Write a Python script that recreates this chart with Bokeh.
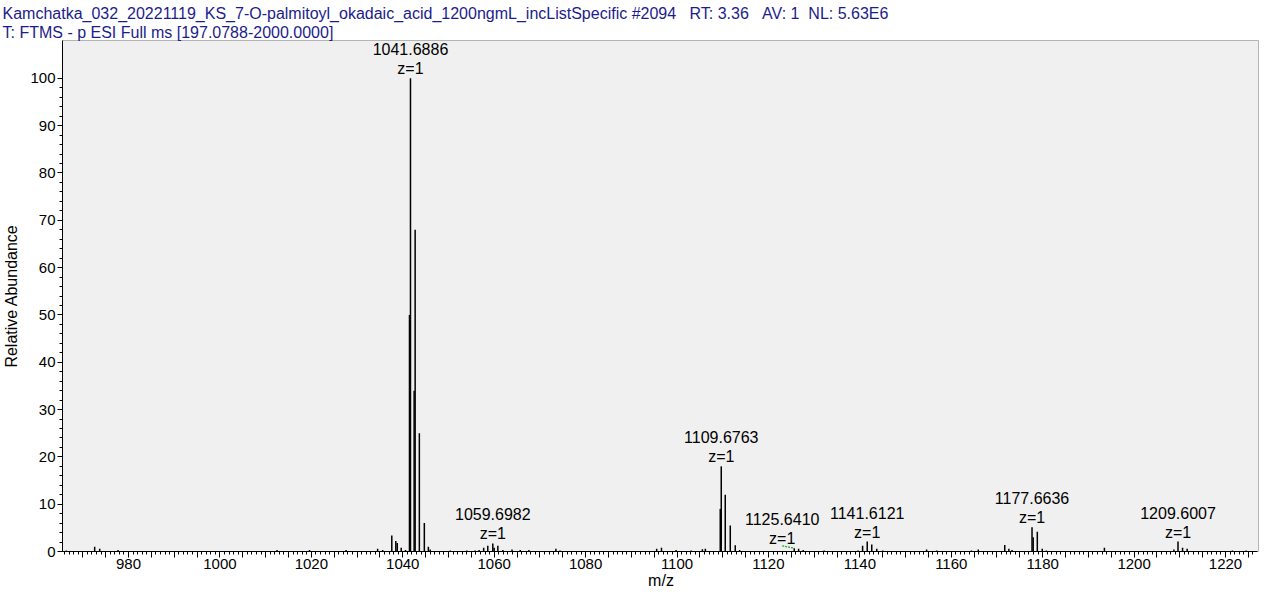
from bokeh.plotting import figure
from bokeh.models import (Range1d, FixedTicker, ColumnDataSource,
                          CustomJSTickFormatter, Title)
from bokeh.embed import file_html
from bokeh.resources import INLINE
from bokeh.core.properties import value

# ---------------- data ----------------
peak_mz = [966.4, 972.6, 973.7, 977.7, 1012.5, 1019.6, 1027.6, 1034.5, 1035.6,
           1037.6, 1038.48, 1038.8, 1039.66, 1040.6, 1041.47, 1041.6886, 1042.49,
           1042.71, 1043.63, 1044.72, 1045.6, 1046.0,
           1050.4, 1054.0, 1055.8, 1056.7, 1057.7, 1058.6, 1059.6982, 1060.0, 1060.8,
           1061.9, 1063.9, 1065.7, 1067.6, 1073.5, 1074.4,
           1095.55, 1096.6, 1099.8, 1103.1, 1105.55, 1106.2,
           1109.46, 1109.6763, 1110.55, 1111.65, 1112.74, 1113.7,
           1125.641, 1126.6, 1127.6, 1132.2,
           1139.6, 1140.6, 1141.6121, 1142.6, 1143.7, 1145.0,
           1154.6, 1156.8, 1164.4, 1165.9,
           1171.7, 1172.6, 1173.3, 1177.6636, 1177.92, 1178.82, 1179.9, 1180.8,
           1193.5, 1208.7, 1209.6007, 1210.6, 1211.6, 1221.5, 1224.5]
peak_int = [0.2, 1.0, 0.6, 0.3, 0.3, 0.3, 0.3, 0.6, 0.3,
            3.4, 2.2, 1.8, 0.8, 0.3, 50.0, 100.0, 34.0,
            68.0, 25.0, 6.0, 1.0, 0.4,
            0.2, 0.2, 0.2, 0.3, 0.8, 1.2, 1.7, 0.8, 1.2,
            0.3, 0.4, 0.3, 0.3, 0.6, 0.2,
            0.6, 0.8, 0.3, 0.2, 0.5, 0.6,
            9.0, 18.0, 12.0, 5.5, 1.3, 0.3,
            0.7, 0.6, 0.3, 0.2,
            0.2, 1.2, 2.1, 1.5, 0.6, 0.2,
            0.4, 0.2, 0.2, 0.4,
            1.4, 0.6, 0.3, 5.1, 3.0, 4.2, 0.6, 0.2,
            0.8, 0.4, 2.1, 0.8, 0.6, 0.2, 0.2]

label_mz = [1041.6886, 1059.6982, 1109.6763, 1125.6410, 1141.6121, 1177.6636, 1209.6007]
label_int = [100.0, 1.7, 18.0, 0.7, 2.1, 5.1, 2.1]
label_charge = [1, 1, 1, 1, 1, 1, 1]

x_major_ticks = list(range(970, 1226, 5))
x_minor_ticks = list(range(966, 1227, 1))
y_major_ticks = list(range(0, 101, 10))
y_minor_ticks = list(range(0, 101, 2))

NB = "\u00a0"
title_line1 = ("Kamchatka_032_20221119_KS_7-O-palmitoyl_okadaic_acid_1200ngmL_incListSpecific #2094"
               + NB * 3 + "RT:" + NB + "3.36" + NB * 3 + "AV:" + NB + "1" + NB * 2 + "NL:" + NB + "5.63E6")
title_line2 = "T: FTMS - p ESI Full ms [197.0788-2000.0000]"
x_title = "m/z"
y_title = "Relative Abundance"

# ---------------- layout constants ----------------
W, H = 1259, 591
FONT = "Liberation Sans"
LEFT = 62
PX_PER_DA = 4.571
X0 = 980 - (128 - LEFT) / PX_PER_DA
X1 = X0 + (W - LEFT) / PX_PER_DA
TITLE_COLOR = "#1c1c8c"

p = figure(width=W, height=H, output_backend="svg", toolbar_location=None,
           x_range=Range1d(X0, X1), y_range=Range1d(0, 108.0),
           min_border_left=LEFT, min_border_right=0, min_border_top=40, min_border_bottom=0,
           background_fill_color="#f0f0f0", border_fill_color="white",
           outline_line_color="#b4b4b4")
p.xgrid.visible = False
p.ygrid.visible = False

for ax in (p.xaxis[0], p.yaxis[0]):
    ax.axis_line_color = "black"
    ax.major_tick_line_color = "black"
    ax.minor_tick_line_color = "black"
    ax.major_tick_in = 0
    ax.minor_tick_in = 0
    ax.minor_tick_out = 3
    ax.major_label_text_font = FONT
    ax.major_label_text_font_size = "15px"
    ax.major_label_text_color = "black"
    ax.axis_label_text_font = FONT
    ax.axis_label_text_font_size = "16px"
    ax.axis_label_text_font_style = "normal"
    ax.axis_label_text_color = "black"

xa = p.xaxis[0]
xa.ticker = FixedTicker(ticks=x_major_ticks, minor_ticks=x_minor_ticks)
xa.formatter = CustomJSTickFormatter(code="return (Math.round(tick) % 20 == 0) ? tick.toFixed(0) : '';")
xa.bounds = (X0, 1227.0)
xa.major_tick_out = 6
xa.major_label_standoff = 1
xa.axis_label = x_title
xa.axis_label_standoff = 0

ya = p.yaxis[0]
ya.ticker = FixedTicker(ticks=y_major_ticks, minor_ticks=y_minor_ticks)
ya.major_tick_out = 5
ya.major_label_standoff = 2
ya.axis_label = y_title
ya.axis_label_standoff = 7

src = ColumnDataSource(dict(mz=peak_mz, inten=peak_int, base=[0.0] * len(peak_mz)))
p.segment(x0="mz", y0="base", x1="mz", y1="inten", source=src,
          line_color="black", line_width=1.5)

xoff = [0, 0, 0, -12, 0, 0, 0]
lsrc = ColumnDataSource(dict(x=label_mz, y=label_int,
                             mass=[f"{m:.4f}" for m in label_mz],
                             z=[f"z={c}" for c in label_charge],
                             xo=xoff))
p.text(x="x", y="y", text="mass", x_offset="xo", y_offset=-23, source=lsrc,
       text_align="center", text_baseline="bottom", text_color="black",
       text_font=value(FONT), text_font_size="16px")
p.text(x="x", y="y", text="z", x_offset="xo", y_offset=-1, source=lsrc,
       text_align="center", text_baseline="bottom", text_color="black",
       text_font=value(FONT), text_font_size="16px")

# dashed leader line for the shifted label
i = 3
p.segment(x0=[label_mz[i] - 12 / PX_PER_DA], y0=[label_int[i] + 0.5],
          x1=[label_mz[i]], y1=[label_int[i]],
          line_color="#22aa22", line_width=1.3, line_dash="2 1")

# ---------------- header ----------------
# first added "above" item sits nearest the frame
p.add_layout(Title(text=title_line2, align="left", offset=-(LEFT - 2), standoff=0,
                   text_font=FONT, text_font_size="16px", text_font_style="normal",
                   text_color=TITLE_COLOR), "above")
p.add_layout(Title(text=title_line1, align="left", offset=-(LEFT - 2), standoff=0,
                   text_font=FONT, text_font_size="16px", text_font_style="normal",
                   text_color=TITLE_COLOR), "above")

open("out.html", "w").write(file_html(p, INLINE))
